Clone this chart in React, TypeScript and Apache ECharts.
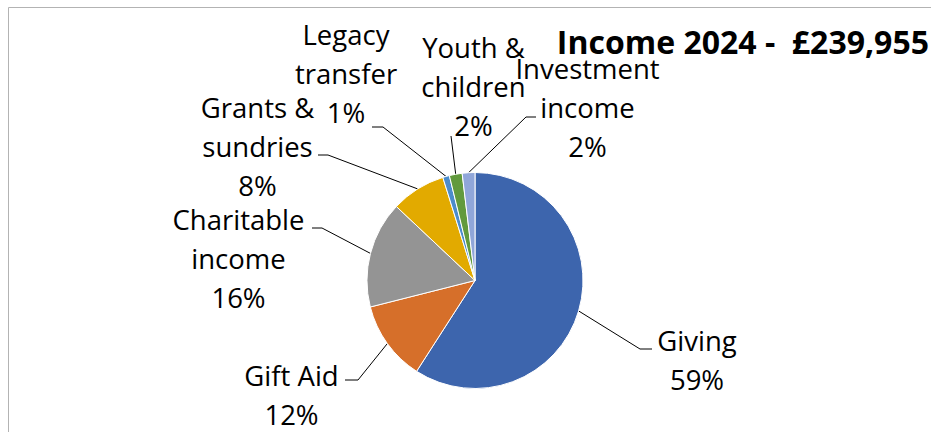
import React, { useEffect, useRef } from "react";
import * as echarts from "echarts";

const categories = [
  "Giving",
  "Gift Aid",
  "Charitable\nincome",
  "Grants &\nsundries",
  "Legacy\ntransfer",
  "Youth &\nchildren",
  "Investment\nincome",
];
const amounts = [141800, 28700, 38300, 19600, 2400, 4600, 4555];
const sliceColors = ["#3D65AD", "#D66F2A", "#949494", "#E2AA00", "#4C8CCB", "#629A3D", "#90A6D9"];
const titleText = "Income 2024 -  £239,955";

// label block placement (centre x, middle y) and leader-line elbow/end
const labelPlaces: { x: number; y: number; line: number[][] }[] = [
  { x: 697, y: 360, line: [[640, 349], [652, 349]] },
  { x: 291.5, y: 395, line: [[358, 380], [345, 380]] },
  { x: 238.5, y: 258, line: [[322, 228], [312, 228]] },
  { x: 257.5, y: 146, line: [[328, 155], [318, 155]] },
  { x: 346, y: 73, line: [[383, 127], [372, 127]] },
  { x: 473.5, y: 86, line: [[451, 136]] },
  { x: 587.5, y: 107, line: [[526, 117], [536, 117]] },
];

const CX = 475;
const CY = 280.5;
const R = 108;

export default function App() {
  const ref = useRef<HTMLDivElement>(null);
  useEffect(() => {
    if (!ref.current) return;
    const chart = echarts.init(ref.current, null, { renderer: "svg" });
    const total = amounts.reduce((a, b) => a + b, 0);
    const midAngles: number[] = [];
    let acc = 0;
    amounts.forEach((v) => {
      midAngles.push(((acc + v / 2) / total) * Math.PI * 2);
      acc += v;
    });
    const data = categories.map((name, i) => ({
      name,
      value: amounts[i],
      itemStyle: { color: sliceColors[i] },
    }));
    chart.setOption({
      animation: false,
      title: {
        text: titleText,
        right: -3,
        top: 20,
        textStyle: {
          fontFamily: "Open Sans",
          fontSize: 32,
          fontWeight: "bold",
          color: "#000",
        },
      },
      graphic: [
        {
          type: "rect",
          shape: { x: 8.5, y: 7.5, width: 1200, height: 1200 },
          style: { fill: "none", stroke: "#b3b3b3", lineWidth: 1 },
          silent: true,
        },
      ],
      series: [
        {
          type: "pie",
          center: [CX, CY],
          radius: R,
          startAngle: 90,
          clockwise: true,
          avoidLabelOverlap: false,
          minShowLabelAngle: 0,
          itemStyle: { borderColor: "#ffffff", borderWidth: 1 },
          label: {
            show: true,
            position: "outside",
            fontFamily: "Open Sans",
            fontSize: 27.5,
            lineHeight: 39,
            color: "#000",
            align: "center",
            formatter: (p: any) => `${p.name}\n${Math.round((p.value / total) * 100)}%`,
          },
          labelLine: {
            show: true,
            length: 10,
            length2: 10,
            smooth: false,
            lineStyle: { color: "#000", width: 1 },
          },
          labelLayout: (params: any) => {
            const p = labelPlaces[params.dataIndex];
            const a = midAngles[params.dataIndex];
            const start =
              params.labelLinePoints && params.labelLinePoints[0]
                ? params.labelLinePoints[0]
                : [CX + R * Math.sin(a), CY - R * Math.cos(a)];
            return {
              x: p.x,
              y: p.y,
              align: "center",
              verticalAlign: "middle",
              labelLinePoints: [start, ...p.line],
            };
          },
          emphasis: { disabled: true },
          data,
        },
      ],
    });
    return () => chart.dispose();
  }, []);
  return (
    <div
      style={{ position: "fixed", left: 0, top: 0, width: 931, height: 432, background: "#fff" }}
    >
      <div ref={ref} style={{ width: 931, height: 432 }} />
    </div>
  );
}
